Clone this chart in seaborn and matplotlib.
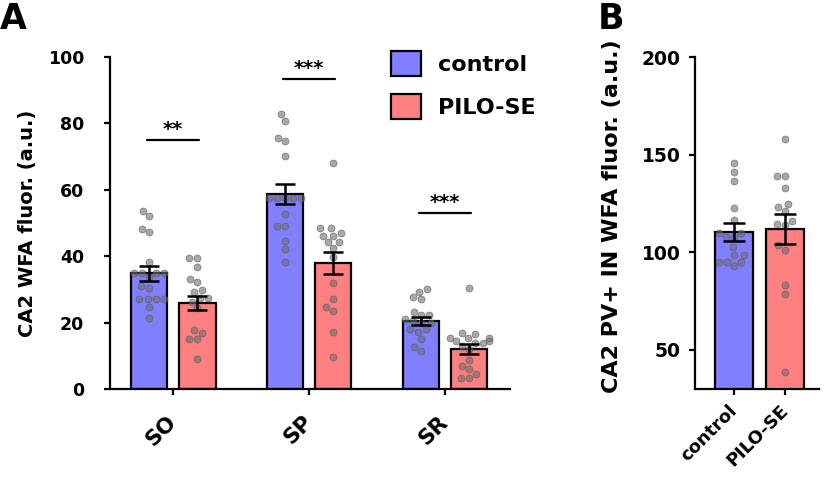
import numpy as np
import pandas as pd
import matplotlib
matplotlib.use("Agg")
import matplotlib.pyplot as plt
import seaborn as sns

# ---- data ----
regions = ["SO", "SP", "SR"]
groups = ["control", "PILO-SE"]
colors = ["#8080FF", "#FF8080"]

# panel A: bar means and SEM per region (control, PILO-SE)
ctrl_mean = [34.8, 58.7, 20.5]
ctrl_sem = [2.2, 3.1, 1.2]
pilo_mean = [26.0, 37.9, 12.0]
pilo_sem = [2.1, 3.3, 1.6]

# individual points
so_ctrl = [53.7, 52.1, 48.3, 47.3, 38.3, 35.0, 35.0, 35.0, 35.0, 33.8, 31.1, 30.3,
           27.1, 27.1, 27.1, 27.1, 24.8, 21.4]
so_pilo = [39.5, 39.5, 36.8, 33.2, 32.1, 29.8, 29.1, 27.3, 27.3, 26.3, 24.5, 17.7,
           17.0, 15.0, 15.0, 9.0]
sp_ctrl = [82.7, 80.7, 75.7, 74.8, 70.1, 57.4, 57.4, 57.4, 57.4, 57.4, 52.7, 49.1,
           49.1, 44.7, 42.2, 38.3]
sp_pilo = [68.2, 48.4, 48.4, 47.1, 46.2, 46.2, 44.4, 44.4, 42.6, 39.9, 31.8, 27.0,
           24.6, 23.5, 17.1, 9.7]
sr_ctrl = [30.0, 29.3, 27.6, 27.0, 23.3, 22.3, 22.3, 21.0, 20.5, 19.8, 19.8, 18.0,
           18.0, 17.3, 15.1, 12.7, 11.5]
sr_pilo = [30.5, 16.8, 16.5, 15.3, 15.3, 15.3, 14.5, 14.5, 13.8, 13.8, 13.0, 12.0,
           8.7, 6.9, 5.9, 4.5, 3.2, 3.2]

# significance bars per region
sig_y = [75, 93.3, 53.1]
sig_txt = ["**", "***", "***"]

# panel B
b_mean = [110.4, 112.1]
b_sem = [4.6, 7.6]
b_ctrl = [145.9, 141.3, 136.6, 122.8, 116.7, 110.0, 110.0, 107.8, 107.8, 102.7,
          98.8, 98.8, 95.1, 95.1, 95.1, 93.2]
b_pilo = [158.0, 139.3, 139.3, 132.8, 124.8, 123.1, 121.0, 115.8, 114.6, 113.8,
          103.6, 101.4, 83.5, 78.9, 38.6]

# ---- style ----
sns.set_style("ticks")
plt.rcParams["font.family"] = ["DejaVu Sans"]
plt.rcParams["font.weight"] = "bold"
plt.rcParams["axes.linewidth"] = 1.6
for key in ["text.color", "axes.labelcolor", "xtick.color", "ytick.color", "axes.edgecolor"]:
    plt.rcParams[key] = "black"

fig = plt.figure(figsize=(8.28, 4.79), dpi=100)
axA = fig.add_axes([0.1329, 0.1879, 0.483, 0.693])
axB = fig.add_axes([0.8394, 0.1879, 0.150, 0.693])

off = 0.178
pts_a = [[so_ctrl, so_pilo], [sp_ctrl, sp_pilo], [sr_ctrl, sr_pilo]]
means_a = [ctrl_mean, pilo_mean]
sems_a = [ctrl_sem, pilo_sem]

bar_rows, pt_rows = [], []
for i, reg in enumerate(regions):
    for j, g in enumerate(groups):
        pos = i + (-off if j == 0 else off)
        bar_rows.append({"pos": pos, "group": g, "mean": means_a[j][i], "sem": sems_a[j][i]})
        for v in pts_a[i][j]:
            pt_rows.append({"pos": pos, "group": g, "val": v})
bars = pd.DataFrame(bar_rows)
pts = pd.DataFrame(pt_rows)

sns.barplot(data=bars, x="pos", y="mean", hue="group", hue_order=groups,
            palette=colors, saturation=1, native_scale=True, width=0.745,
            errorbar=None, edgecolor="black", linewidth=1.6, ax=axA, zorder=1)
sns.swarmplot(data=pts, x="pos", y="val", native_scale=True, color="#6e6e6e",
              size=5, alpha=0.6, edgecolor="#555555", linewidth=0.6, ax=axA,
              zorder=3)
axA.errorbar(bars["pos"], bars["mean"], yerr=bars["sem"], fmt="none",
             ecolor="black", elinewidth=1.8, capsize=7.5, capthick=1.8, zorder=4)

for i, (y, t) in enumerate(zip(sig_y, sig_txt)):
    axA.plot([i - 0.19, i + 0.19], [y, y], color="black", lw=1.6)
    axA.text(i, y + 0.3, t, ha="center", va="bottom", fontsize=14, fontweight="bold")

axA.set_xlim(-0.465, 2.476)
axA.set_ylim(0, 100)
axA.set_yticks([0, 20, 40, 60, 80, 100])
axA.set_xticks([0, 1, 2])
axA.set_xticklabels(regions, rotation=45, ha="right", va="center",
                    rotation_mode="anchor", fontsize=15.5, fontweight="bold")
axA.tick_params(axis="y", labelsize=12.5, width=1.6, length=4.5, pad=14)
axA.tick_params(axis="x", width=1.6, length=4.5, pad=17)
for lab in axA.get_yticklabels():
    lab.set_fontweight("bold")
axA.set_xlabel("")
axA.set_ylabel("CA2 WFA fluor. (a.u.)", fontsize=14, fontweight="bold", labelpad=8)
sns.despine(ax=axA)

handles, labels = axA.get_legend_handles_labels()
axA.legend(handles, labels, loc="upper left", bbox_to_anchor=(0.68, 1.045),
           frameon=False, handlelength=1.35, handleheight=1.35,
           labelspacing=0.8, handletextpad=0.75, borderaxespad=0,
           prop={"weight": "bold", "size": 16})

# ---- panel B ----
bars_b = pd.DataFrame({"group": groups, "mean": b_mean, "sem": b_sem})
pts_b = pd.DataFrame({"group": ["control"] * len(b_ctrl) + ["PILO-SE"] * len(b_pilo),
                      "val": b_ctrl + b_pilo})
sns.barplot(data=bars_b, x="group", y="mean", hue="group", order=groups,
            hue_order=groups, palette=colors, saturation=1, width=0.75,
            errorbar=None, edgecolor="black", linewidth=1.6, legend=False,
            ax=axB, zorder=1)
sns.swarmplot(data=pts_b, x="group", y="val", order=groups, color="#6e6e6e",
              size=5, alpha=0.6, edgecolor="#555555", linewidth=0.6, ax=axB,
              zorder=3)
axB.errorbar([0, 1], bars_b["mean"], yerr=bars_b["sem"], fmt="none",
             ecolor="black", elinewidth=1.8, capsize=8, capthick=1.8, zorder=4)
axB.set_xlim(-0.77, 1.67)
axB.set_ylim(30, 200)
axB.set_yticks([50, 100, 150, 200])
axB.set_xticks([0, 1])
axB.set_xticklabels(groups, rotation=45, ha="right", va="center",
                    rotation_mode="anchor", fontsize=13, fontweight="bold")
axB.tick_params(axis="y", labelsize=13.5, width=1.6, length=4.5, pad=6)
axB.tick_params(axis="x", width=1.6, length=4.5, pad=9)
for lab in axB.get_yticklabels():
    lab.set_fontweight("bold")
axB.set_xlabel("")
axB.set_ylabel("CA2 PV+ IN WFA fluor. (a.u.)", fontsize=16, fontweight="bold")
axB.yaxis.set_label_coords(-0.59, 0.52)
sns.despine(ax=axB)

fig.text(0.0, 0.995, "A", fontsize=25, fontweight="bold", va="top", ha="left")
fig.text(0.722, 0.995, "B", fontsize=25, fontweight="bold", va="top", ha="left")

fig.savefig("out.png", dpi=100)
